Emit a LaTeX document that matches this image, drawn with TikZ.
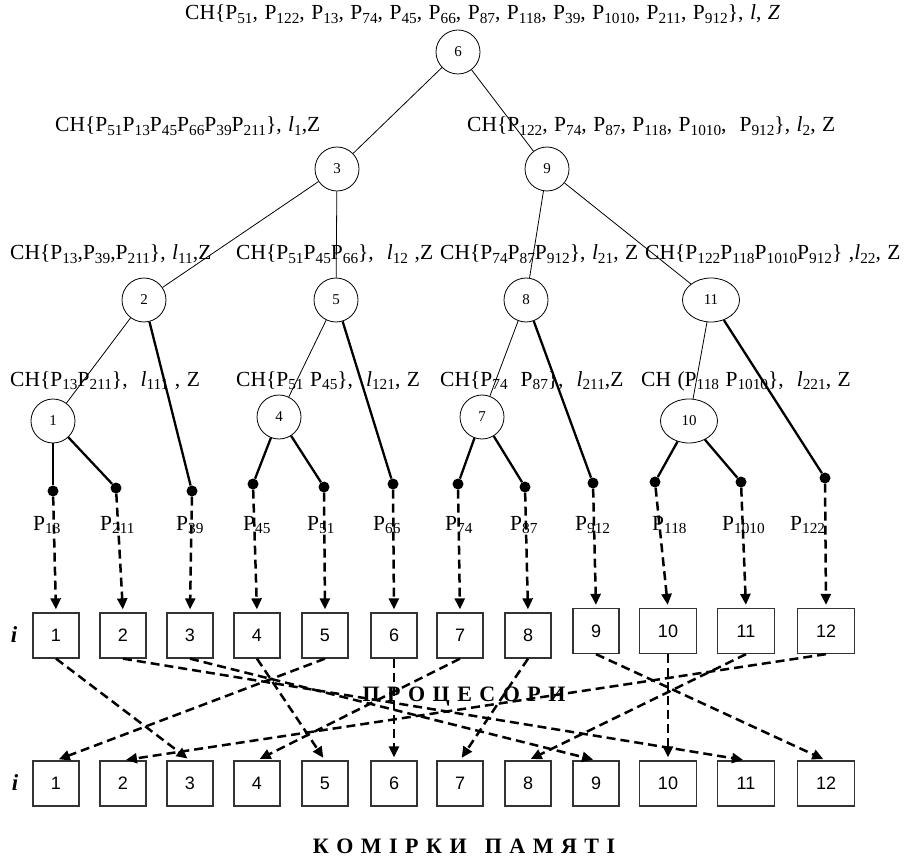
\documentclass[tikz,border=0pt]{standalone}
\usepackage{fontspec}
\setmainfont{Liberation Serif}
\newfontfamily\boxfont{Liberation Sans}
\usetikzlibrary{arrows.meta,shapes.geometric}
\newcommand{\sbs}[1]{\raisebox{-3.5pt}{\fontsize{15.3}{15.3}\selectfont #1}}
\newcommand{\Pp}[1]{P\sbs{#1}}
\newcommand{\lsp}{\kern7.5pt}
\newcommand{\lblfont}{\fontsize{21.5}{24}\selectfont\setlength{\spaceskip}{6.5pt plus 1pt minus 1pt}}
\begin{document}
\begin{tikzpicture}[x=1pt,y=-1pt,
  lbl/.style={anchor=base west,inner sep=0pt,font={\lblfont}},
  cnode/.style={circle,draw,line width=0.8pt,fill=white,minimum size=44pt,inner sep=0pt,font=\fontsize{15}{15}\selectfont},
  enode/.style={ellipse,draw,line width=0.8pt,fill=white,minimum width=57pt,minimum height=44pt,inner sep=0pt,font=\fontsize{15}{15}\selectfont},
  dot/.style={circle,fill=black,minimum size=11pt,inner sep=0pt},
  pbox/.style={rectangle,draw=black!80,line width=1.3pt,fill=white,minimum width=46pt,minimum height=45pt,inner sep=0pt,font=\boxfont\fontsize{18}{18}\selectfont},
  wbox/.style={pbox,minimum width=57pt},
  thinedge/.style={line width=0.8pt},
  thickedge/.style={line width=2.3pt},
  darr/.style={line width=2.5pt,dash pattern=on 9pt off 5pt,-{Triangle[length=11pt,width=10pt]},shorten >=3pt},
  bigword/.style={inner sep=0pt,font=\bfseries\fontsize{22}{22}\selectfont},
  ilbl/.style={inner sep=0pt,font=\bfseries\itshape\fontsize{23}{23}\selectfont}
]
\useasboundingbox (0,0) rectangle (904,858);

% labels
\node[lbl] (t0) at (185,20) {CH\{\Pp{51}, \Pp{122}, \Pp{13}, \Pp{74}, \Pp{45}, \Pp{66}, \Pp{87}, \Pp{118}, \Pp{39}, \Pp{1010}, \Pp{211}, \Pp{912}\}, \textit{l}, \textit{Z}};
\node[lbl] (t1) at (55,132) {CH\{\Pp{51}\Pp{13}\Pp{45}\Pp{66}\Pp{39}\Pp{211}\}, \textit{l}\sbs{1},Z};
\node[lbl] (t2) at (467,132) {CH\{\Pp{122}, \Pp{74}, \Pp{87}, \Pp{118}, \Pp{1010}, \ \Pp{912}\}, \textit{l}\sbs{2}, Z};
\node[lbl] (t11) at (10,260) {CH\{\Pp{13},\Pp{39},\Pp{211}\}, \textit{l}\sbs{11},Z};
\node[lbl] (t12) at (236,260) {CH\{\Pp{51}\Pp{45}\Pp{66}\}, \ \textit{l}\sbs{12} ,Z};
\node[lbl] (t21) at (440,260) {CH\{\Pp{74}\Pp{87}\Pp{912}\}, \textit{l}\sbs{21}, Z};
\node[lbl] (t22) at (645,260) {CH\{\Pp{122}\Pp{118}\Pp{1010}\Pp{912}\} ,\textit{l}\sbs{22}, Z};
\node[lbl] (t111) at (10,386) {CH\{\Pp{13}\Pp{211}\}, \ \textit{l}\sbs{111} , Z};
\node[lbl] (t121) at (236,386) {CH\{\Pp{51} \Pp{45}\}, \ \textit{l}\sbs{121}, Z};
\node[lbl] (t211) at (440,386) {CH\{\Pp{74} \ \Pp{87}\}, \ \textit{l}\sbs{211},Z};
\node[lbl] (t221) at (641,386) {CH (\Pp{118} \Pp{1010}\}, \ \textit{l}\sbs{221}, Z};

% P labels
\node[lbl] (q13) at (33,530) {\Pp{13}};
\node[lbl] (q211) at (100,530) {\Pp{211}};
\node[lbl] (q39) at (176,530) {\Pp{39}};
\node[lbl] (q45) at (243,530) {\Pp{45}};
\node[lbl] (q51) at (307,530) {\Pp{51}};
\node[lbl] (q66) at (373,530) {\Pp{66}};
\node[lbl] (q74) at (445,530) {\Pp{74}};
\node[lbl] (q87) at (510,530) {\Pp{87}};
\node[lbl] (q912) at (575,530) {\Pp{912}};
\node[lbl] (q118) at (652,530) {\Pp{118}};
\node[lbl] (q1010) at (722,530) {\Pp{1010}};
\node[lbl] (q122) at (790,530) {\Pp{122}};

% big words
\node[bigword] (proc) at (464,697) {П\lsp Р\lsp О\lsp Ц\lsp Е\lsp С\lsp О\lsp Р\lsp И};
\node[bigword] (mem) at (464,846) {К\lsp О\lsp М\lsp І\lsp Р\lsp К\lsp И\kern18pt П\lsp А\lsp М\lsp Я\lsp Т\lsp І};
\node[ilbl] (i1) at (14,635) {i};
\node[ilbl] (i2) at (15,783) {i};

% tree nodes
\node[cnode] (n6) at (458,52) {6};
\node[cnode] (n3) at (337,169) {3};
\node[cnode] (n9) at (547,169) {9};
\node[cnode] (n2) at (144,300) {2};
\node[cnode] (n5) at (336,300) {5};
\node[cnode] (n8) at (526,300) {8};
\node[enode] (n11) at (711,300) {11};
\node[cnode] (n1) at (53,421) {1};
\node[cnode] (n4) at (279,417) {4};
\node[cnode] (n7) at (482,417) {7};
\node[enode] (n10) at (689,421) {10};

% dots
\node[dot] (d13) at (53,491) {};
\node[dot] (d211) at (116,488) {};
\node[dot] (d39) at (192,491) {};
\node[dot] (d45) at (253,484) {};
\node[dot] (d51) at (324,487) {};
\node[dot] (d66) at (393,484) {};
\node[dot] (d74) at (458,484) {};
\node[dot] (d87) at (525,487) {};
\node[dot] (d912) at (593,483) {};
\node[dot] (d118) at (655,482) {};
\node[dot] (d1010) at (741,482) {};
\node[dot] (d122) at (825,478) {};

% processor boxes
\node[pbox] (p1) at (56,635.5) {1};
\node[pbox] (p2) at (123,635.5) {2};
\node[pbox] (p3) at (190,635.5) {3};
\node[pbox] (p4) at (257,635.5) {4};
\node[pbox] (p5) at (325,635.5) {5};
\node[pbox] (p6) at (394,635.5) {6};
\node[pbox] (p7) at (460,635.5) {7};
\node[pbox] (p8) at (528,635.5) {8};
\node[pbox] (p9) at (596,631) {9};
\node[wbox] (p10) at (668,631) {10};
\node[wbox] (p11) at (746,631) {11};
\node[wbox] (p12) at (826,631) {12};

% memory boxes
\node[pbox] (m1) at (56,783.5) {1};
\node[pbox] (m2) at (123,783.5) {2};
\node[pbox] (m3) at (190,783.5) {3};
\node[pbox] (m4) at (257,783.5) {4};
\node[pbox] (m5) at (325,783.5) {5};
\node[pbox] (m6) at (394,783.5) {6};
\node[pbox] (m7) at (460,783.5) {7};
\node[pbox] (m8) at (528,783.5) {8};
\node[pbox] (m9) at (596,783.5) {9};
\node[wbox] (m10) at (668,783.5) {10};
\node[wbox] (m11) at (746,783.5) {11};
\node[wbox] (m12) at (826,783.5) {12};

% thin tree edges
\draw[thinedge] (n6) -- (n3);
\draw[thinedge] (n6) -- (n9);
\draw[thinedge] (n3) -- (n2);
\draw[thinedge] (n3) -- (n5);
\draw[thinedge] (n9) -- (n8);
\draw[thinedge] (n9) -- (n11);
\draw[thinedge] (n2) -- (n1);
\draw[thinedge] (n5) -- (n4);
\draw[thinedge] (n8) -- (n7);
\draw[thinedge] (n11) -- (n10);

% thick leaf edges
\draw[thickedge] (n1) -- (d13);
\draw[thickedge] (n1) -- (d211);
\draw[thickedge] (n2) -- (d39);
\draw[thickedge] (n4) -- (d45);
\draw[thickedge] (n4) -- (d51);
\draw[thickedge] (n5) -- (d66);
\draw[thickedge] (n7) -- (d74);
\draw[thickedge] (n7) -- (d87);
\draw[thickedge] (n8) -- (d912);
\draw[thickedge] (n10) -- (d118);
\draw[thickedge] (n10) -- (d1010);
\draw[thickedge] (n11) -- (d122);

% dots to processors
\draw[darr] (d13) -- (p1.north);
\draw[darr] (d211) -- (p2.north);
\draw[darr] (d39) -- (p3.north);
\draw[darr] (d45) -- (p4.north);
\draw[darr] (d51) -- (p5.north);
\draw[darr] (d66) -- (p6.north);
\draw[darr] (d74) -- (p7.north);
\draw[darr] (d87) -- (p8.north);
\draw[darr] (d912) -- (p9.north);
\draw[darr] (d118) -- (p10.north);
\draw[darr] (d1010) -- (p11.north);
\draw[darr] (d122) -- (p12.north);

% processors to memory
\draw[darr] (p1.south) -- (m3.north);
\draw[darr] (p2.south) -- (m11.north);
\draw[darr] (p3.south) -- (m9.north);
\draw[darr] (p4.south) -- (m5.north);
\draw[darr] (p5.south) -- (m1.north);
\draw[darr] (p6.south) -- (m6.north);
\draw[darr] (p7.south) -- (m4.north);
\draw[darr] (p8.south) -- (m7.north);
\draw[darr] (p9.south) -- (m12.north);
\draw[darr] (p10.south) -- (m10.north);
\draw[darr] (p11.south) -- (m8.north);
\draw[darr] (p12.south) -- (m2.north);
\end{tikzpicture}
\end{document}
